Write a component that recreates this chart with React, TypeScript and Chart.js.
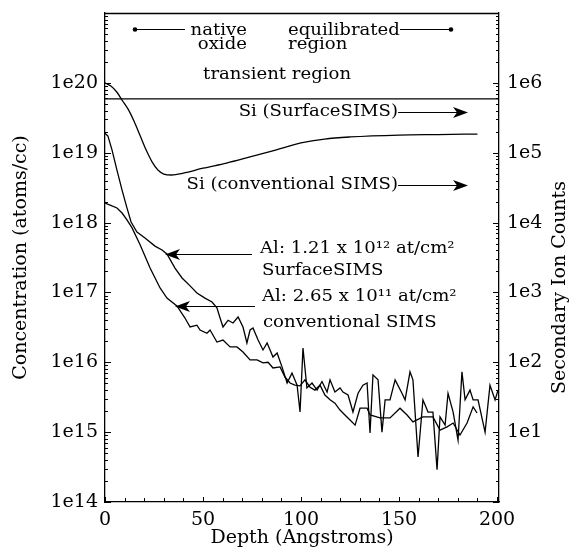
import React, { useEffect, useRef } from 'react';
import { Chart, registerables } from 'chart.js';

Chart.register(...registerables);

const FONT = "'DejaVu Serif', serif";

// ---- data ----
const siSurfaceDepth = [0, 201];
const siSurfaceCounts = [5.9e5, 5.9e5];

const siConvDepth = [0, 3, 6, 9, 12, 15, 18, 21, 24, 27, 30, 34, 40, 50, 62, 74, 87, 100, 112, 125, 150, 170, 190];
const siConvCounts = [1.0e6, 9.0e5, 7.4e5, 5.5e5, 4.1e5, 2.75e5, 1.73e5, 1.09e5, 7.4e4, 5.65e4, 4.95e4, 4.8e4, 5.1e4, 6.0e4, 7.1e4, 8.7e4, 1.09e5, 1.38e5, 1.57e5, 1.68e5, 1.79e5, 1.82e5, 1.85e5];

const alSurfaceDepth = [0, 1.5, 3.6, 6.1, 8.7, 11.2, 13.3, 16.3, 20.4, 25.5,
  29.1, 31.6, 35.7, 39.3, 43.4, 46.9, 51, 54.6, 57.1, 58.7,
  60.2, 62.8, 65.3, 67.9, 70.4, 72.4, 74, 75.5, 78.1, 80.6,
  82.7, 84.2, 85.7, 87.8, 90.3, 92.9, 95.4, 98, 99.5, 101,
  103, 105.6, 108.2, 110.7, 113.3, 114.8, 117.3, 119.9, 121.4, 124,
  126.5, 129.1, 131.6, 133.7, 135.2, 136.7, 139.3, 141.3, 142.9, 145.4,
  148, 151.5, 153.1, 155.6, 157.1, 159.7, 162.2, 164.8, 167.3, 169.4,
  170.9, 173.5, 175, 177.6, 180.1, 182.1, 183.7, 186.2, 187.8, 190.3,
  193.9, 196.4, 199, 200.5];
const alSurfaceConc = [1.9e19, 1.73e19, 1.09e19, 5.65e18, 2.92e18, 1.62e18, 1.02e18, 7.3e17, 6.0e17, 4.6e17,
  4.05e17, 3.55e17, 2.23e17, 1.61e17, 1.24e17, 9.8e16, 8.3e16, 7.3e16, 6.0e16, 4.3e16,
  3.2e16, 4.0e16, 3.65e16, 4.45e16, 3.2e16, 1.89e16, 2.9e16, 3.1e16, 2.08e16, 1.5e16,
  1.89e16, 1.5e16, 1.19e16, 1.36e16, 8.6e15, 5.05e15, 7.0e15, 4.7e15, 1.94e15, 1.6e16,
  4.3e15, 5.05e15, 4.0e15, 5.3e15, 3.75e15, 5.6e15, 3.75e15, 4.3e15, 3.75e15, 3.4e15,
  1.94e15, 3.6e15, 4.7e15, 5.05e15, 9.7e14, 6.6e15, 5.6e15, 1.0e15, 2.9e15, 2.9e15,
  5.6e15, 3.6e15, 2.9e15, 7.3e15, 5.6e15, 4.4e14, 2.9e15, 1.94e15, 1.94e15, 2.9e14,
  1.65e15, 1.26e15, 3.6e15, 1.94e15, 7.7e14, 7.3e15, 2.9e15, 4.0e15, 2.9e15, 2.9e15,
  1.0e15, 4.7e15, 2.9e15, 4.0e15];

const alConvDepth = [0, 2.6, 6.1, 8.7, 11.2, 13.8, 17.9, 23, 28.1, 31.6,
  36.7, 40.8, 43.4, 46.9, 48.5, 52, 53.6, 57.1, 60.2, 63.8,
  67.3, 70.4, 74, 77.6, 80.6, 83.2, 85.7, 89.3, 91.8, 94.4,
  96.9, 99.5, 102, 104.6, 107.1, 109.7, 112.2, 114.8, 117.3, 119.9,
  122.4, 125, 127.6, 130.1, 133.7, 135.2, 140.3, 145.4, 150.5, 154.1,
  157.1, 162.2, 167.3, 170.9, 174.5, 177.6, 181.1, 184.7, 187.8, 189.8];
const alConvConc = [1.9e18, 1.78e18, 1.62e18, 1.37e18, 1.09e18, 8.4e17, 4.8e17, 2.23e17, 1.16e17, 8.3e16,
  6.4e16, 4.3e16, 3.2e16, 3.4e16, 2.9e16, 2.6e16, 2.9e16, 1.95e16, 2.08e16, 1.66e16,
  1.66e16, 1.4e16, 1.08e16, 1.08e16, 9.8e15, 1.0e16, 8.3e15, 8.6e15, 6.15e15, 5.05e15,
  4.7e15, 4.6e15, 5.6e15, 4.4e15, 4.0e15, 4.7e15, 3.4e15, 2.9e15, 2.6e15, 2.07e15,
  1.76e15, 1.49e15, 1.26e15, 2.2e15, 2.2e15, 1.76e15, 1.6e15, 1.6e15, 2.2e15, 1.76e15,
  1.4e15, 1.65e15, 1.65e15, 1.07e15, 1.19e15, 1.35e15, 9.1e14, 1.35e15, 2.3e15, 1.88e15];

const xTickValues = [0, 50, 100, 150, 200];
const xTickLabels = ['0', '50', '100', '150', '200'];
const leftTickValues = [1e14, 1e15, 1e16, 1e17, 1e18, 1e19, 1e20];
const leftTickLabels = ['1e14', '1e15', '1e16', '1e17', '1e18', '1e19', '1e20'];
const rightTickValues = [1e1, 1e2, 1e3, 1e4, 1e5, 1e6];
const rightTickLabels = ['1e1', '1e2', '1e3', '1e4', '1e5', '1e6'];

// annotations (data coordinates: depth, concentration)
const noteTexts = [
  { text: 'native', x: 72.4, y: 4.84e20, align: 'right' },
  { text: 'oxide', x: 72.4, y: 3.05e20, align: 'right' },
  { text: 'equilibrated', x: 93.4, y: 4.84e20, align: 'left' },
  { text: 'region', x: 93.4, y: 3.05e20, align: 'left' },
  { text: 'transient region', x: 87.8, y: 1.14e20, align: 'center' },
  { text: 'Si (SurfaceSIMS)', x: 149.5, y: 3.35e19, align: 'right' },
  { text: 'Si (conventional SIMS)', x: 149.5, y: 3.02e18, align: 'right' },
  { text: 'Al: 1.21 x 10\u00B9\u00B2 at/cm\u00B2', x: 79.1, y: 3.66e17, align: 'left' },
  { text: 'SurfaceSIMS', x: 80.1, y: 1.77e17, align: 'left' },
  { text: 'Al: 2.65 x 10\u00B9\u00B9 at/cm\u00B2', x: 80.1, y: 7.5e16, align: 'left' },
  { text: 'conventional SIMS', x: 80.6, y: 3.2e16, align: 'left' },
];
const noteLines = [
  { x1: 15.3, x2: 40.8, y: 5.9e20, start: 'dot', end: 'none' },
  { x1: 150.5, x2: 176.5, y: 5.9e20, start: 'none', end: 'dot' },
  { x1: 149.5, x2: 185.2, y: 3.82e19, start: 'none', end: 'arrow' },
  { x1: 149.5, x2: 185.2, y: 3.45e18, start: 'none', end: 'arrow' },
  { x1: 75, x2: 30.6, y: 3.55e17, start: 'none', end: 'arrow' },
  { x1: 76.5, x2: 35.7, y: 6.4e16, start: 'none', end: 'arrow' },
];
const rightTitle = 'Secondary Ion Counts';

const toPts = (xs: number[], ys: number[]) => xs.map((x, i) => ({ x, y: ys[i] }));

const annotationPlugin = {
  id: 'annotations',
  afterDraw(chart: any) {
    const { ctx, chartArea, scales } = chart;
    const { left, right, top, bottom } = chartArea;
    const xs = scales.x, ys = scales.y, ys2 = scales.y2;
    ctx.save();
    ctx.strokeStyle = '#000';
    ctx.fillStyle = '#000';
    // top frame
    ctx.lineWidth = 1.3;
    ctx.beginPath();
    ctx.moveTo(left, top + 0.5);
    ctx.lineTo(right, top + 0.5);
    ctx.stroke();
    ctx.lineWidth = 1;
    // inner ticks
    ctx.beginPath();
    for (let e = 14; e < 21; e++) {
      for (let m = 1; m <= 9; m++) {
        const py = Math.round(ys.getPixelForValue(m * Math.pow(10, e))) + 0.5;
        const len = m === 1 ? 6 : 3;
        ctx.moveTo(left, py); ctx.lineTo(left + len, py);
      }
    }
    for (let e = 0; e < 7; e++) {
      for (let m = 1; m <= 9; m++) {
        const py = Math.round(ys2.getPixelForValue(m * Math.pow(10, e))) + 0.5;
        const len = m === 1 ? 6 : 3;
        ctx.moveTo(right, py); ctx.lineTo(right - len, py);
      }
    }
    for (let v = 0; v <= 200; v += 10) {
      const px = Math.round(xs.getPixelForValue(v)) + 0.5;
      const len = v % 50 === 0 ? 5 : 4;
      ctx.moveTo(px, bottom); ctx.lineTo(px, bottom - len);
    }
    ctx.stroke();

    // note lines
    ctx.lineWidth = 1.2;
    for (const l of noteLines) {
      const x1 = xs.getPixelForValue(l.x1);
      const x2 = xs.getPixelForValue(l.x2);
      const y = Math.round(ys.getPixelForValue(l.y)) + 0.5;
      const dir = Math.sign(x2 - x1);
      const lineEnd = l.end === 'arrow' ? x2 - dir * 10 : x2;
      ctx.beginPath();
      ctx.moveTo(x1, y); ctx.lineTo(lineEnd, y);
      ctx.stroke();
      if (l.start === 'dot') { ctx.beginPath(); ctx.arc(x1, y, 2.3, 0, Math.PI * 2); ctx.fill(); }
      if (l.end === 'dot') { ctx.beginPath(); ctx.arc(x2, y, 2.3, 0, Math.PI * 2); ctx.fill(); }
      if (l.end === 'arrow') {
        ctx.beginPath();
        ctx.moveTo(x2, y);
        ctx.lineTo(x2 - dir * 15, y - 5.5);
        ctx.lineTo(x2 - dir * 11, y);
        ctx.lineTo(x2 - dir * 15, y + 5.5);
        ctx.closePath();
        ctx.fill();
      }
    }

    // note texts (horizontally widened serif)
    ctx.font = `16px ${FONT}`;
    ctx.textBaseline = 'alphabetic';
    for (const n of noteTexts) {
      const px = xs.getPixelForValue(n.x);
      const py = ys.getPixelForValue(n.y);
      ctx.save();
      ctx.translate(px, py);
      ctx.scale(1.13, 1);
      ctx.textAlign = n.align as CanvasTextAlign;
      ctx.fillText(n.text, 0, 0);
      ctx.restore();
    }

    // right axis title (reads bottom to top)
    ctx.save();
    ctx.font = `19px ${FONT}`;
    ctx.textAlign = 'center';
    ctx.textBaseline = 'middle';
    ctx.translate(right + 61, (top + bottom) / 2 + 30);
    ctx.rotate(-Math.PI / 2);
    ctx.fillText(rightTitle, 0, 0);
    ctx.restore();
    ctx.restore();
  },
};

export default function App() {
  const ref = useRef<HTMLCanvasElement>(null);
  useEffect(() => {
    const lineStyle = {
      borderColor: '#000',
      borderWidth: 1.3,
      pointRadius: 0,
      fill: false,
    };
    const tickFont = { family: FONT, size: 19 };
    const chart = new Chart(ref.current as HTMLCanvasElement, {
      type: 'line',
      data: {
        datasets: [
          { ...lineStyle, label: 'Si (SurfaceSIMS)', data: toPts(siSurfaceDepth, siSurfaceCounts), yAxisID: 'y2', tension: 0 },
          { ...lineStyle, label: 'Si (conventional SIMS)', data: toPts(siConvDepth, siConvCounts), yAxisID: 'y2', cubicInterpolationMode: 'monotone' },
          { ...lineStyle, label: 'Al SurfaceSIMS', data: toPts(alSurfaceDepth, alSurfaceConc), yAxisID: 'y', tension: 0 },
          { ...lineStyle, label: 'Al conventional SIMS', data: toPts(alConvDepth, alConvConc), yAxisID: 'y', tension: 0 },
        ] as any,
      },
      options: {
        responsive: false,
        animation: false,
        devicePixelRatio: 1,
        events: [],
        layout: { padding: { top: 13, left: 0, right: 0, bottom: 0 } },
        plugins: { legend: { display: false }, tooltip: { enabled: false } },
        scales: {
          x: {
            type: 'linear',
            position: 'bottom',
            min: 0,
            max: 201,
            afterBuildTicks: (s: any) => { s.ticks = xTickValues.map((v) => ({ value: v })); },
            afterFit: (s: any) => { s.height = 49; s.paddingLeft = 0; s.paddingRight = 0; },
            ticks: {
              callback: (_v: any, i: number) => xTickLabels[i],
              padding: 7,
              autoSkip: false,
              maxRotation: 0,
              color: '#000',
              font: tickFont,
            },
            grid: { display: true, drawOnChartArea: false, drawTicks: false },
            border: { display: true, color: '#000', width: 1.3 },
            title: {
              display: true,
              text: 'Depth (Angstroms)',
              color: '#000',
              font: tickFont,
              padding: { top: 0, bottom: 2 },
            },
          },
          y: {
            type: 'logarithmic',
            position: 'left',
            min: 1e14,
            max: 1e21,
            afterBuildTicks: (s: any) => { s.ticks = leftTickValues.map((v) => ({ value: v })); },
            afterFit: (s: any) => { s.width = 105; s.paddingTop = 0; s.paddingBottom = 0; },
            ticks: {
              callback: (_v: any, i: number) => leftTickLabels[i],
              padding: 7,
              autoSkip: false,
              color: '#000',
              font: tickFont,
            },
            grid: { display: true, drawOnChartArea: false, drawTicks: false },
            border: { display: true, color: '#000', width: 1.3 },
            title: {
              display: true,
              text: 'Concentration (atoms/cc)',
              color: '#000',
              font: tickFont,
              padding: { top: 10, bottom: 0 },
            },
          },
          y2: {
            type: 'logarithmic',
            position: 'right',
            min: 1,
            max: 1e7,
            afterBuildTicks: (s: any) => { s.ticks = rightTickValues.map((v) => ({ value: v })); },
            afterFit: (s: any) => { s.width = 78; s.paddingTop = 0; s.paddingBottom = 0; },
            ticks: {
              callback: (_v: any, i: number) => rightTickLabels[i],
              padding: 8,
              autoSkip: false,
              color: '#000',
              font: tickFont,
            },
            grid: { display: true, drawOnChartArea: false, drawTicks: false },
            border: { display: true, color: '#000', width: 1.3 },
            title: { display: false },
          },
        },
      } as any,
      plugins: [annotationPlugin],
    });
    return () => chart.destroy();
  }, []);
  return (
    <div style={{ position: 'absolute', left: 0, top: 0, width: 577, height: 551, background: '#fff' }}>
      <canvas ref={ref} width={577} height={551} style={{ display: 'block' }} />
    </div>
  );
}
